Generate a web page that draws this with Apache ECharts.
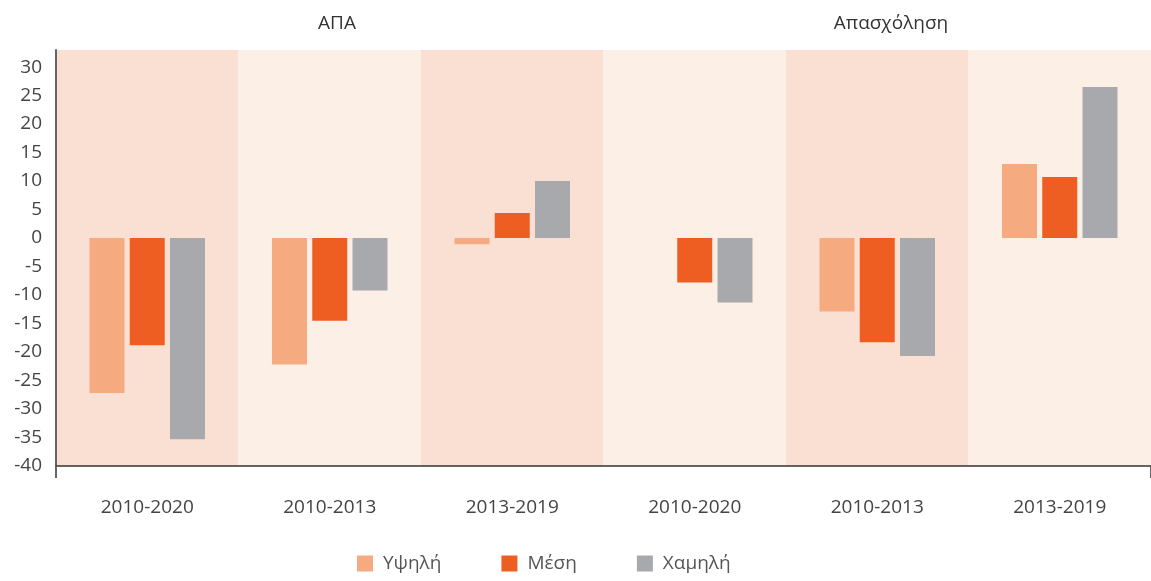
<!DOCTYPE html>
<html>
<head>
<meta charset="utf-8">
<script src="https://cdn.jsdelivr.net/npm/echarts@6/dist/echarts.min.js"></script>
<style>
  html, body { margin: 0; padding: 0; background: #fff; }
  #main { width: 1151px; height: 581px; }
</style>
</head>
<body>
<div id="main"></div>
<script>
// categories (two panels of three periods)
var periods = ['2010-2020', '2010-2013', '2013-2019', '2010-2020', '2010-2013', '2013-2019'];
var panelTitles = ['ΑΠΑ', 'Απασχόληση'];
var seriesNames = ['Υψηλή', 'Μέση', 'Χαμηλή'];

// values
var high = [-27.2, -22.2, -1.1, 0, -12.9, 13.0];
var mid = [-18.8, -14.5, 4.4, -7.8, -18.3, 10.7];
var low = [-35.3, -9.2, 10.0, -11.3, -20.7, 26.5];

var colors = ['#F5AA80', '#EE5E22', '#A8A9AC'];
var fontFam = '"Open Sans", "Noto Sans", sans-serif';

var chartDom = document.getElementById('main');
var myChart = echarts.init(chartDom);

function make_bar(name, data, color) {
    return {
        name: name,
        type: 'bar',
        data: data,
        barWidth: 35,
        barGap: '15%',
        itemStyle: { color: color },
        emphasis: { disabled: true }
    };
}

var option = {
    animation: false,
    color: colors,
    title: [{
        text: panelTitles[0],
        left: 332, top: 9,
        textAlign: 'center',
        textStyle: { fontFamily: fontFam, fontSize: 19, fontWeight: 'normal', color: '#333' }
    }, {
        text: panelTitles[1],
        left: 886, top: 9,
        textAlign: 'center',
        textStyle: { fontFamily: fontFam, fontSize: 19, fontWeight: 'normal', color: '#333' }
    }],
    legend: {
        bottom: 3,
        left: 352,
        itemWidth: 16,
        itemHeight: 16,
        itemGap: 60,
        icon: 'rect',
        data: seriesNames,
        textStyle: { fontFamily: fontFam, fontSize: 19, color: '#555', padding: [0, 0, 0, 5] }
    },
    grid: { left: 56, right: 0, top: 50, bottom: 115 },
    xAxis: {
        type: 'category',
        data: periods,
        axisLine: { show: true, onZero: false, lineStyle: { color: '#333', width: 1.5 } },
        axisTick: {
            show: true,
            length: 12,
            interval: function (i) { return i === 0; }, // only the left edge tick
            lineStyle: { color: '#666', width: 2 }
        },
        axisLabel: { margin: 32, fontFamily: fontFam, fontSize: 19, color: '#444' },
        splitArea: { show: true, areaStyle: { color: ['#FAE0D3', '#FCF0E6'] } }
    },
    yAxis: {
        type: 'value',
        min: -40,
        max: 33,
        interval: 5,
        axisLine: { show: true, lineStyle: { color: '#666', width: 2 } },
        axisTick: { show: false },
        axisLabel: { showMaxLabel: false, margin: 14, fontFamily: fontFam, fontSize: 19, color: '#444' },
        splitLine: { show: true, showMaxLine: false, lineStyle: { color: '#ffffff', width: 2 } }
    },
    series: [
        make_bar(seriesNames[0], high, colors[0]),
        make_bar(seriesNames[1], mid, colors[1]),
        make_bar(seriesNames[2], low, colors[2])
    ]
};
option && myChart.setOption(option);
</script>
</body>
</html>
